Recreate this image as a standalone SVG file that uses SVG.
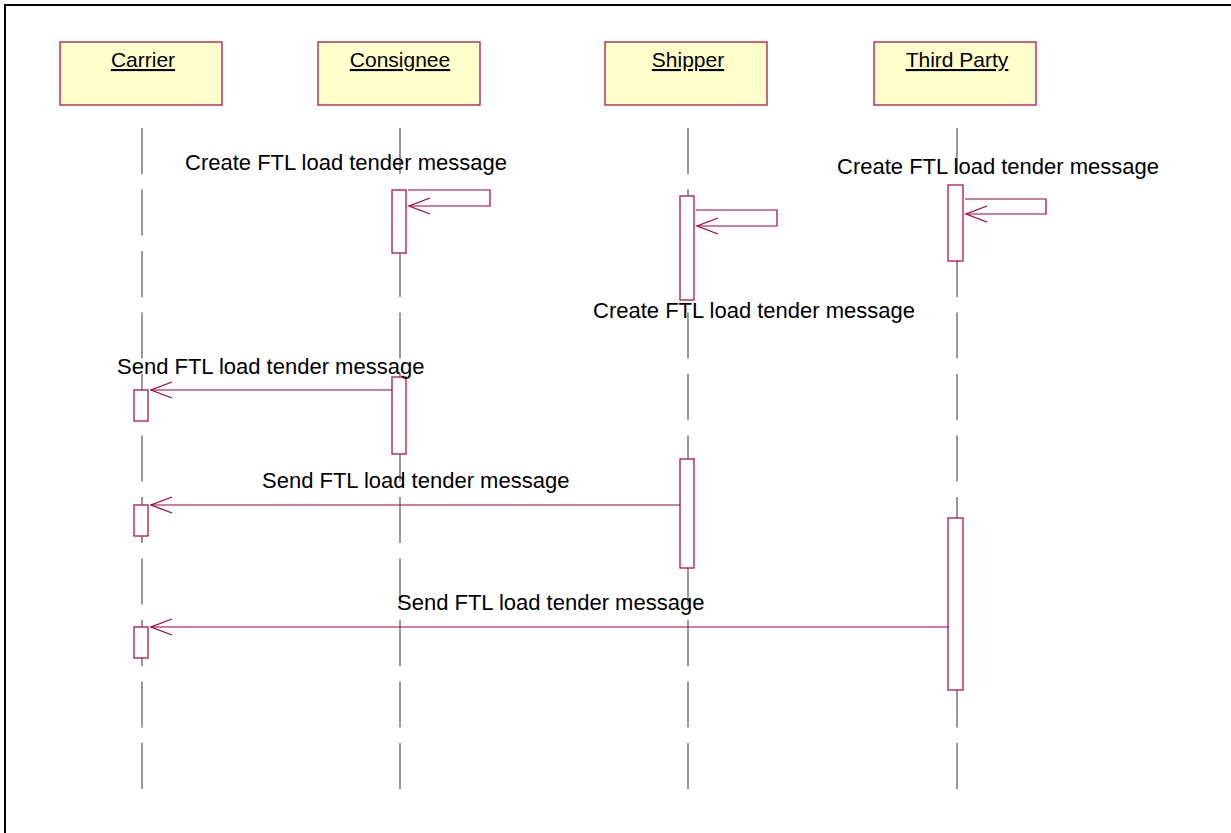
<svg xmlns="http://www.w3.org/2000/svg" width="1231" height="833" viewBox="0 0 1231 833">
<style>
.frame{stroke:#000;stroke-width:2;fill:none}
.obj{fill:#ffffcc;stroke:#b0154a;stroke-width:1.3}
.objtext{font-family:"Liberation Sans",Arial,sans-serif;font-size:21px;fill:#000;text-anchor:middle;text-decoration:underline}
.life{stroke:#555;stroke-width:1.2;stroke-dasharray:46 15.5}
.act{fill:#fff;stroke:#b0154a;stroke-width:1.3}
.msg{fill:none;stroke:#a0003c;stroke-width:1.2}
.lbl{font-family:"Liberation Sans",Arial,sans-serif;font-size:22px;fill:#000}
</style>
<defs>
<marker id="open" markerWidth="24" markerHeight="20" refX="22" refY="9" orient="auto" markerUnits="userSpaceOnUse">
<path d="M1,1 L22,9 L1,17" fill="none" stroke="#a0003c" stroke-width="1.3"/>
</marker>
</defs>
<rect width="1231" height="833" fill="#fff"/>
<path class="frame" d="M5,833 V5 H1231"/>
<g id="carrier">
<rect class="obj" x="60" y="42" width="162" height="63"/>
<text class="objtext" x="143" y="67">Carrier</text>
<line class="life" x1="142" y1="128" x2="142" y2="789"/>
</g>
<g id="consignee">
<rect class="obj" x="318" y="42" width="162" height="63"/>
<text class="objtext" x="400" y="67">Consignee</text>
<line class="life" x1="400" y1="128" x2="400" y2="789"/>
</g>
<g id="shipper">
<rect class="obj" x="605" y="42" width="162" height="63"/>
<text class="objtext" x="688" y="67">Shipper</text>
<line class="life" x1="688" y1="128" x2="688" y2="789"/>
</g>
<g id="thirdparty">
<rect class="obj" x="874" y="42" width="162" height="63"/>
<text class="objtext" x="957" y="67">Third Party</text>
<line class="life" x1="957" y1="128" x2="957" y2="789"/>
</g>
<g id="activations">
<rect class="act" x="392" y="190" width="14" height="63"/>
<rect class="act" x="680" y="196" width="14" height="104"/>
<rect class="act" x="948" y="185" width="15" height="76"/>
<rect class="act" x="392" y="377" width="14" height="77"/>
<rect class="act" x="134" y="390" width="14" height="31"/>
<rect class="act" x="680" y="459" width="14" height="109"/>
<rect class="act" x="134" y="505" width="14" height="31"/>
<rect class="act" x="948" y="518" width="15" height="172"/>
<rect class="act" x="134" y="627" width="14" height="31"/>
</g>
<g id="connectors">
<path class="msg" d="M408,190 H490 V206 H409" marker-end="url(#open)"/>
<path class="msg" d="M696,210 H777 V226 H697" marker-end="url(#open)"/>
<path class="msg" d="M965,199 H1046 V214 H966" marker-end="url(#open)"/>
<path class="msg" d="M392,390 H151" marker-end="url(#open)"/>
<path class="msg" d="M680,505 H151" marker-end="url(#open)"/>
<path class="msg" d="M948,627 H151" marker-end="url(#open)"/>
</g>
<g id="labels">
<text class="lbl" x="185" y="170">Create FTL load tender message</text>
<text class="lbl" x="837" y="174">Create FTL load tender message</text>
<text class="lbl" x="593" y="318">Create FTL load tender message</text>
<text class="lbl" x="117" y="374">Send FTL load tender message</text>
<text class="lbl" x="262" y="488">Send FTL load tender message</text>
<text class="lbl" x="397" y="610">Send FTL load tender message</text>
</g>
</svg>
